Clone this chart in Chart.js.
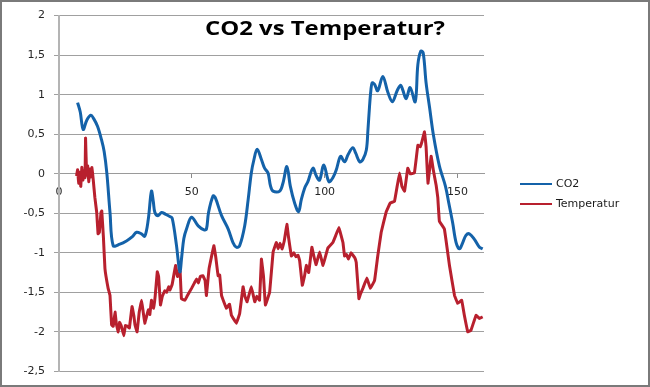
<!DOCTYPE html>
<html>
<head>
<meta charset="utf-8">
<script src="https://cdn.jsdelivr.net/npm/chart.js@4.4.0/dist/chart.umd.min.js"></script>
<style>
  html, body { margin: 0; padding: 0; background: #fff; }
  #wrap { position: relative; width: 650px; height: 387px; }
  #frame { position: absolute; left: 0; top: 0; width: 650px; height: 387px; box-sizing: border-box; border: 2px solid #7a7a7a; pointer-events: none; }
</style>
</head>
<body>
<div id="wrap">
  <canvas id="chart" width="650" height="387"></canvas>
  <div id="frame"></div>
</div>
<script>
// Series labels
const seriesNames = ['CO2', 'Temperatur'];
const chartTitle = 'CO2 vs Temperatur?';

// CO2 curve (x, y)
const co2X = [7, 8, 9.1, 10.5, 12, 13, 14.5, 16, 17, 18, 19.2, 20.4, 22.9, 25.4, 27.5, 29.2, 31, 32.3, 33.6, 34.8,
  35.5, 36.1, 37.3, 38.6, 40, 41.7, 42.6, 44.2, 45.5, 46.2, 47, 48, 49.9, 52.4, 54.6, 55.5, 56.3, 58, 58.8, 61.2,
  63.7, 65.5, 66.8, 68, 69.9, 71.2, 72.4, 73.4, 74.6, 76.2, 77.4, 78.7, 79.6, 80.6, 83.1, 84.3, 85.8, 87.1, 88.7, 90.2,
  91.2, 92.5, 93.7, 95.6, 96.9, 98.1, 99.7, 101.6, 103.1, 104.4, 106, 107.5, 108.8, 110.6, 111.7, 113.2, 114.4, 115.7, 116.3, 116.9,
  117.4, 117.9, 118.8, 120, 121.9, 123.8, 125.5, 127.3, 128.6, 129.4, 130.7, 132.2, 134.1, 135.1, 136.2, 137.1, 138.2, 139.5, 141, 143.2,
  145.5, 146.8, 148.2, 149.5, 150.8, 152, 153.2, 154.5, 156.4, 158.3, 159.5];
const co2Y = [0.90, 0.78, 0.56, 0.68, 0.74, 0.70, 0.60, 0.43, 0.28, 0.01, -0.49, -0.91, -0.89, -0.85, -0.80, -0.74, -0.76, -0.79, -0.58, -0.22,
  -0.35, -0.49, -0.53, -0.49, -0.51, -0.54, -0.56, -0.90, -1.24, -1.05, -0.82, -0.70, -0.55, -0.66, -0.71, -0.70, -0.49, -0.28, -0.30, -0.53,
  -0.70, -0.87, -0.93, -0.91, -0.66, -0.33, 0.01, 0.18, 0.31, 0.18, 0.07, 0.01, -0.15, -0.22, -0.22, -0.12, 0.09, -0.16, -0.37, -0.48,
  -0.33, -0.18, -0.10, 0.07, -0.03, -0.08, 0.11, -0.10, -0.05, 0.05, 0.22, 0.15, 0.24, 0.33, 0.26, 0.15, 0.18, 0.30, 0.55, 0.85,
  1.05, 1.15, 1.13, 1.05, 1.23, 1.03, 0.91, 1.05, 1.12, 1.06, 0.95, 1.09, 0.91, 1.38, 1.55, 1.53, 1.15, 0.84, 0.48, 0.10,
  -0.16, -0.38, -0.62, -0.87, -0.95, -0.87, -0.78, -0.76, -0.83, -0.93, -0.95];

// Temperatur curve
const tempX = [6.6, 7, 7.4, 7.8, 8.2, 8.6, 9, 9.4, 9.8, 10, 10.4, 10.8, 11.2, 11.6, 12, 12.4, 12.9, 13.5, 14.2, 14.7,
  15.2, 15.8, 16.1, 16.7, 17.3, 18.5, 19.2, 19.8, 20.4, 21.1, 21.6, 22.3, 22.8, 23.4, 24.4, 25, 25.8, 26.5, 27.5, 28.2,
  28.6, 29.4, 30.2, 31.1, 31.7, 32.3, 33, 33.6, 34.2, 34.8, 35.6, 36.2, 37, 37.5, 38.2, 38.9, 39.8, 40.5, 41.3, 41.8,
  42.6, 43.9, 44.6, 45.2, 45.6, 46.1, 47.4, 48.2, 49.9, 51, 51.8, 52.5, 53.2, 54.2, 55, 55.5, 56.5, 58.3, 59, 59.9,
  60.5, 61.2, 63, 64.2, 64.9, 66.8, 68, 69.3, 70, 70.8, 72.4, 73.7, 74.5, 75.5, 76.2, 77, 77.7, 79.3, 80.6, 81.8,
  82.5, 83.2, 84, 84.8, 85.8, 86.4, 87.5, 88.4, 89.2, 90, 90.6, 91.6, 92.4, 93.1, 94, 95.2, 96, 96.8, 98.1, 99.4,
  101.2, 103.1, 104.2, 105.4, 106.2, 106.9, 107.5, 108.2, 108.9, 110, 111.3, 111.9, 112.9, 113.5, 114.4, 115.9, 117.2, 118.8, 120, 121.3,
  123.2, 124.7, 126.3, 127.3, 128.2, 129.1, 130.1, 131.3, 132.2, 133.8, 135.1, 136, 136.6, 137.6, 138.2, 138.9, 140.1, 140.9, 142, 142.6,
  143.2, 145.1, 147, 148.9, 150.1, 151.6, 152.6, 153.9, 155.1, 157, 158.3, 159.5];
const tempY = [-0.03, 0.05, -0.12, 0.02, -0.16, 0.08, -0.08, 0.04, -0.05, 0.45, -0.02, 0.10, -0.10, 0.06, -0.04, 0.08, -0.08, -0.30, -0.49, -0.76,
  -0.74, -0.49, -0.47, -0.79, -1.20, -1.45, -1.54, -1.91, -1.93, -1.75, -1.90, -2.00, -1.88, -1.92, -2.05, -1.92, -1.93, -1.95, -1.68, -1.80,
  -1.91, -2.00, -1.75, -1.60, -1.75, -1.89, -1.80, -1.72, -1.78, -1.60, -1.70, -1.55, -1.24, -1.30, -1.66, -1.55, -1.48, -1.50, -1.43, -1.47,
  -1.40, -1.16, -1.30, -1.26, -1.24, -1.58, -1.60, -1.55, -1.45, -1.38, -1.33, -1.38, -1.30, -1.29, -1.35, -1.54, -1.20, -0.91, -1.05, -1.29,
  -1.28, -1.54, -1.70, -1.65, -1.79, -1.89, -1.77, -1.43, -1.55, -1.62, -1.43, -1.62, -1.55, -1.60, -1.08, -1.30, -1.66, -1.50, -0.99, -0.87,
  -0.95, -0.88, -0.95, -0.85, -0.64, -0.80, -1.04, -1.00, -1.05, -1.03, -1.10, -1.41, -1.30, -1.16, -1.25, -0.93, -1.05, -1.15, -0.99, -1.16,
  -0.94, -0.87, -0.78, -0.68, -0.78, -0.87, -1.04, -1.02, -1.08, -1.00, -1.06, -1.12, -1.58, -1.52, -1.45, -1.32, -1.45, -1.35, -1.04, -0.74,
  -0.48, -0.37, -0.35, -0.16, 0.01, -0.16, -0.22, 0.07, 0.00, 0.01, 0.36, 0.34, 0.40, 0.53, 0.34, -0.12, 0.22, 0.05, -0.15, -0.30,
  -0.60, -0.70, -1.16, -1.54, -1.64, -1.60, -1.79, -2.00, -1.98, -1.79, -1.83, -1.81];

// Axis ticks
const xTicks = [0, 50, 100, 150];
const yMin = -2.5, yMax = 2, yStep = 0.5;

const toPoints = (xs, ys) => xs.map((x, i) => ({ x: x, y: ys[i] }));

// Title drawn over the plot, legend drawn at the right
const overlayPlugin = {
  id: 'overlay',
  afterDraw(chart) {
    const ctx = chart.ctx;
    ctx.save();
    ctx.font = 'bold 19px "Open Sans"';
    ctx.fillStyle = '#000';
    ctx.textBaseline = 'alphabetic';
    const w = ctx.measureText(chartTitle).width;
    const targetW = 240;
    ctx.translate(205, 35);
    ctx.scale(targetW / w, 1);
    ctx.fillText(chartTitle, 0, 0);
    ctx.restore();

    ctx.save();
    ctx.font = '11px "DejaVu Sans"';
    ctx.textBaseline = 'middle';
    chart.data.datasets.forEach((ds, i) => {
      const y = 184 + i * 20;
      ctx.strokeStyle = ds.borderColor;
      ctx.lineWidth = 2;
      ctx.beginPath();
      ctx.moveTo(520, y);
      ctx.lineTo(552, y);
      ctx.stroke();
      ctx.fillStyle = '#1a1a1a';
      ctx.fillText(ds.label, 556, y);
    });
    ctx.restore();
  }
};

new Chart(document.getElementById('chart').getContext('2d'), {
  type: 'line',
  data: {
    datasets: [{
      label: seriesNames[0],
      data: toPoints(co2X, co2Y),
      borderColor: '#1462a9',
      borderWidth: 3,
      pointRadius: 0,
      tension: 0.35,
      fill: false
    }, {
      label: seriesNames[1],
      data: toPoints(tempX, tempY),
      borderColor: '#b8202e',
      borderWidth: 3,
      pointRadius: 0,
      tension: 0.05,
      fill: false
    }]
  },
  options: {
    responsive: false,
    animation: false,
    layout: { padding: { left: 0, top: 14, right: 166, bottom: 14 } },
    plugins: {
      legend: { display: false },
      title: { display: false },
      tooltip: { enabled: false }
    },
    scales: {
      x: {
        type: 'linear',
        position: { y: 0 },
        min: 0,
        max: 160,
        afterBuildTicks: (scale) => {
          scale.ticks = xTicks.map(v => ({ value: v }));
        },
        grid: {
          drawOnChartArea: false,
          drawTicks: true,
          tickLength: 4,
          color: '#8a8a8a'
        },
        border: { color: '#9a9a9a', width: 1 },
        ticks: {
          padding: 8,
          maxRotation: 0,
          color: '#262626',
          font: { family: 'DejaVu Sans', size: 11 }
        }
      },
      y: {
        min: yMin,
        max: yMax,
        afterFit: (scale) => { scale.width = 59; },
        grid: {
          color: '#a0a0a0',
          lineWidth: 1,
          drawTicks: true,
          tickLength: 5
        },
        border: { color: '#b4b4b4', width: 2 },
        ticks: {
          stepSize: yStep,
          padding: 9,
          color: '#262626',
          font: { family: 'DejaVu Sans', size: 11 },
          callback: (v) => String(v).replace('.', ',')
        }
      }
    }
  },
  plugins: [overlayPlugin]
});
</script>
</body>
</html>
